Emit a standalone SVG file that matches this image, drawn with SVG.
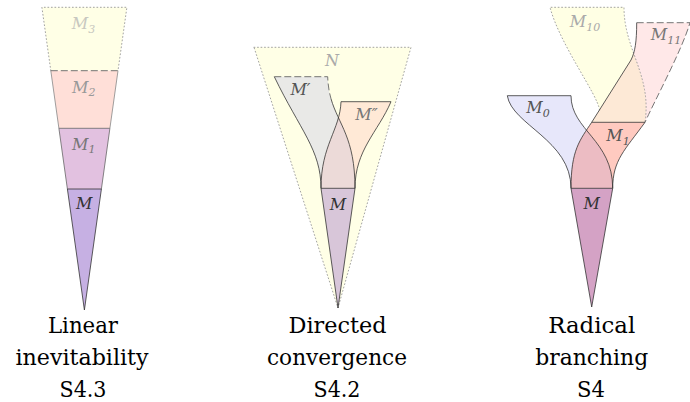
<svg xmlns="http://www.w3.org/2000/svg" width="690" height="402" viewBox="0 0 690 402">
<style>
.lbl{font-family:"DejaVu Serif",serif;font-style:italic;font-size:16px;text-anchor:middle}
.sub{font-size:11px}
.cap{font-family:"DejaVu Serif",serif;font-size:22px;text-anchor:middle;fill:#000}
.solid{fill:none;stroke:#333;stroke-width:0.8;stroke-linejoin:round}
.grey{fill:none;stroke:#888;stroke-width:0.8}
.dot{fill:none;stroke:#999;stroke-width:0.9;stroke-dasharray:0.9 2.6;stroke-linecap:round}
.dash{fill:none;stroke:#666;stroke-width:0.9;stroke-dasharray:7 3}
</style>
<defs>
<path id="p2a" d="M274.3,76.7 L327.7,76.7 C329,120 355,125 355,188.3 L321,188.3 C321,150 300,130 274.3,76.7 Z"/>
<path id="p2b" d="M341,101.7 L391,101.7 C378,132 355,150 355,188.3 L321,188.3 C321,145 340,130 341,101.7 Z"/>
<path id="p3m0" d="M507.3,95.7 L571,95.7 C571,130 612.7,140 612.7,188.3 L571,188.3 C571,140 512,125 507.3,95.7 Z"/>
<path id="p3m1" d="M591.7,122.3 L645,122.3 C625,150 612.7,160 612.7,188.3 L571,188.3 C571,150 580,140 591.7,122.3 Z"/>
<path id="p3m10" d="M550,7.3 L624,7.3 C624,50 652,75 645,122.3 L591.7,122.3 L599.5,110 C598,95 560,45 550,7.3 Z"/>
<path id="p3m11" d="M636.7,22.7 L690,22.7 C682,50 655,100 645,122.3 L591.7,122.3 L631,60 C635,52 636.7,42 636.7,22.7 Z"/>
<clipPath id="c2a"><use href="#p2a"/></clipPath>
<clipPath id="c3m0"><use href="#p3m0"/></clipPath>
<clipPath id="c3m10"><use href="#p3m10"/></clipPath>
</defs>

<!-- Panel 1: Linear inevitability -->
<g id="p1-M3">
<polygon points="41.9,7.3 126.9,7.3 118,70.7 50.8,70.7" fill="#ffffe6"/>
<path class="dot" d="M50.8,70.7 L41.9,7.3 L126.9,7.3 L118,70.7"/>
<text class="lbl" x="83.5" y="29" fill="#c8c8c0">M<tspan class="sub" dy="3.5">3</tspan></text>
</g>
<g id="p1-M2">
<polygon points="50.8,70.7 118,70.7 109.9,128.3 58.9,128.3" fill="#ffdfd8"/>
<path class="dash" d="M50.8,70.7 L118,70.7"/>
<path class="grey" d="M50.8,70.7 L58.9,128.3 M118,70.7 L109.9,128.3"/>
<text class="lbl" x="83.8" y="92.5" fill="#999">M<tspan class="sub" dy="3.5">2</tspan></text>
</g>
<g id="p1-M1">
<polygon points="58.9,128.3 109.9,128.3 101.4,189 67.4,189" fill="#e2c1e0"/>
<path d="M58.9,128.3 L109.9,128.3 L101.4,189 M58.9,128.3 L67.4,189" fill="none" stroke="#666" stroke-width="0.8"/>
<text class="lbl" x="83.8" y="149.5" fill="#777">M<tspan class="sub" dy="3.5">1</tspan></text>
</g>
<g id="p1-M">
<polygon points="67.4,189 101.4,189 84.4,310" fill="#c6b0e3"/>
<polygon class="solid" points="67.4,189 101.4,189 84.4,310"/>
<text class="lbl" x="84.2" y="209" fill="#333">M</text>
</g>

<!-- Panel 2: Directed convergence -->
<g id="p2-N">
<path d="M254,47.3 L411,47.3 L338,308 Z" fill="#ffffe6"/>
<path class="dot" d="M254,47.3 L411,47.3 L338,308 Z"/>
<text class="lbl" x="332" y="66" fill="#aaa">N</text>
</g>
<g id="p2-Mp">
<use href="#p2a" fill="#e9e9e7"/>
</g>
<g id="p2-Mpp">
<use href="#p2b" fill="#ffe9d6"/>
<use href="#p2b" fill="#ecdad8" clip-path="url(#c2a)"/>
</g>
<g id="p2-M">
<path d="M321,188.3 L355,188.3 L338,308 Z" fill="#d8c6d9"/>
<path class="solid" d="M321,188.3 L355,188.3 L338,308 Z"/>
<text class="lbl" x="338" y="210" fill="#333">M</text>
</g>
<g id="p2-edges">
<path class="dash" d="M274.3,76.7 L327.7,76.7 C327.96,85.36 329.21,92.49 331.04,98.86"/>
<path class="solid" d="M331.04,98.86 C338.36,124.33 355,137.66 355,188.3"/>
<path class="solid" d="M274.3,76.7 C300,130 321,150 321,188.3"/>
<path class="solid" d="M321,188.3 C321,145 340,130 341,101.7 L391,101.7 C378,132 355,150 355,188.3"/>
</g>
<g id="p2-labels">
<text class="lbl" x="300.5" y="95" fill="#555">M′</text>
<text class="lbl" x="366.5" y="120" fill="#777">M″</text>
</g>

<!-- Panel 3: Radical branching -->
<g id="p3-M10">
<use href="#p3m10" fill="#ffffe4"/>
</g>
<g id="p3-M11">
<use href="#p3m11" fill="#ffe8e8"/>
<use href="#p3m11" fill="#fde9d6" clip-path="url(#c3m10)"/>
</g>
<g id="p3-M0">
<use href="#p3m0" fill="#e7e7fa"/>
</g>
<g id="p3-M1">
<use href="#p3m1" fill="#ffcac0"/>
<use href="#p3m1" fill="#ecbcc3" clip-path="url(#c3m0)"/>
</g>
<g id="p3-M">
<path d="M571,188.3 L612.7,188.3 L591.7,307 Z" fill="#d4a2c5"/>
<path class="solid" d="M571,188.3 L612.7,188.3 L591.7,307 Z"/>
<text class="lbl" x="591.7" y="209" fill="#333">M</text>
</g>
<g id="p3-edges">
<path class="dot" d="M599.5,110 C598,95 560,45 550,7.3 L624,7.3 C624,50 652,75 645,122.3"/>
<path class="dash" d="M636.7,22.7 L690,22.7 C682,50 655,100 645,122.3"/>
<path class="solid" d="M636.7,22.7 C636.7,42 635,52 631,60 L591.7,122.3"/>
<path class="solid" d="M571,188.3 C571,140 512,125 507.3,95.7 L571,95.7 C571,130 612.7,140 612.7,188.3"/>
<path class="solid" d="M571,188.3 C571,150 580,140 591.7,122.3 L645,122.3 C625,150 612.7,160 612.7,188.3"/>
</g>
<g id="p3-labels">
<text class="lbl" x="585" y="27" fill="#aaa">M<tspan class="sub" dy="3.5">10</tspan></text>
<text class="lbl" x="666" y="40" fill="#777">M<tspan class="sub" dy="3.5">11</tspan></text>
<text class="lbl" x="538" y="113" fill="#555">M<tspan class="sub" dy="3.5">0</tspan></text>
<text class="lbl" x="618" y="141" fill="#555">M<tspan class="sub" dy="3.5">1</tspan></text>
</g>

<!-- Captions -->
<g id="cap1">
<text class="cap" x="83" y="333" textLength="70" lengthAdjust="spacingAndGlyphs">Linear</text>
<text class="cap" x="82" y="365" textLength="133" lengthAdjust="spacingAndGlyphs">inevitability</text>
<text class="cap" x="83" y="397" textLength="47" lengthAdjust="spacingAndGlyphs">S4.3</text>
</g>
<g id="cap2">
<text class="cap" x="337.5" y="333" textLength="98" lengthAdjust="spacingAndGlyphs">Directed</text>
<text class="cap" x="337" y="365" textLength="140" lengthAdjust="spacingAndGlyphs">convergence</text>
<text class="cap" x="337" y="397" textLength="47" lengthAdjust="spacingAndGlyphs">S4.2</text>
</g>
<g id="cap3">
<text class="cap" x="591.7" y="333" textLength="87" lengthAdjust="spacingAndGlyphs">Radical</text>
<text class="cap" x="591.7" y="365" textLength="113" lengthAdjust="spacingAndGlyphs">branching</text>
<text class="cap" x="591" y="397" textLength="28" lengthAdjust="spacingAndGlyphs">S4</text>
</g>
</svg>
